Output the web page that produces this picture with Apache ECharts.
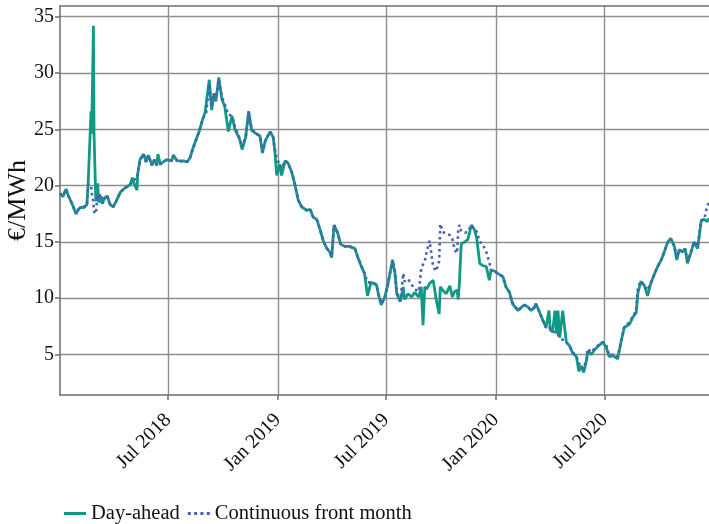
<!DOCTYPE html>
<html>
<head>
<meta charset="utf-8">
<script src="https://cdn.jsdelivr.net/npm/echarts@6/dist/echarts.min.js"></script>
<style>
  html, body { margin: 0; padding: 0; background: #ffffff; }
  #chart { width: 709px; height: 524px; }
</style>
</head>
<body>
<div id="chart"></div>
<script>
// Gas price series, EUR/MWh
const dates = [
  '2018-01-01','2018-01-06','2018-01-11','2018-01-15','2018-01-21','2018-01-28','2018-02-01','2018-02-05','2018-02-09','2018-02-15',
  '2018-02-17','2018-02-22','2018-02-23','2018-02-26','2018-02-27','2018-03-02','2018-03-05','2018-03-07','2018-03-10','2018-03-13',
  '2018-03-16','2018-03-21','2018-03-26','2018-03-31','2018-04-05','2018-04-12','2018-04-20','2018-04-29','2018-05-02','2018-05-05',
  '2018-05-10','2018-05-11','2018-05-15','2018-05-21','2018-05-25','2018-05-29','2018-06-04','2018-06-08','2018-06-12','2018-06-14',
  '2018-06-18','2018-06-23','2018-06-29','2018-07-07','2018-07-10','2018-07-16','2018-07-21','2018-07-27','2018-08-02','2018-08-07',
  '2018-08-11','2018-08-17','2018-08-22','2018-08-28','2018-09-01','2018-09-03','2018-09-08','2018-09-12','2018-09-16','2018-09-19',
  '2018-09-24','2018-09-29','2018-10-04','2018-10-10','2018-10-16','2018-10-21','2018-10-29','2018-11-02','2018-11-08','2018-11-13',
  '2018-11-18','2018-11-26','2018-12-02','2018-12-06','2018-12-11','2018-12-19','2018-12-24','2018-12-27','2018-12-30','2019-01-04',
  '2019-01-07','2019-01-13','2019-01-18','2019-01-24','2019-01-29','2019-02-04','2019-02-10','2019-02-18','2019-02-24','2019-03-01',
  '2019-03-07','2019-03-12','2019-03-18','2019-03-23','2019-03-29','2019-04-01','2019-04-05','2019-04-11','2019-04-16','2019-04-23',
  '2019-05-01','2019-05-10','2019-05-15','2019-05-21','2019-05-26','2019-05-31','2019-06-06','2019-06-15','2019-06-19','2019-06-23',
  '2019-06-29','2019-07-04','2019-07-12','2019-07-16','2019-07-19','2019-07-25','2019-07-30','2019-08-01','2019-08-07','2019-08-13',
  '2019-08-18','2019-08-25','2019-08-29','2019-09-01','2019-09-04','2019-09-07','2019-09-12','2019-09-18','2019-09-23','2019-09-28',
  '2019-09-30','2019-10-04','2019-10-10','2019-10-16','2019-10-20','2019-10-24','2019-10-28','2019-10-30','2019-11-01','2019-11-04',
  '2019-11-10','2019-11-15','2019-11-21','2019-11-26','2019-11-30','2019-12-05','2019-12-10','2019-12-16','2019-12-21','2019-12-24',
  '2019-12-30','2020-01-04','2020-01-13','2020-01-18','2020-01-24','2020-01-29','2020-02-07','2020-02-13','2020-02-18','2020-02-24',
  '2020-02-29','2020-03-06','2020-03-08','2020-03-13','2020-03-20','2020-03-25','2020-03-30','2020-04-01','2020-04-05','2020-04-09',
  '2020-04-12','2020-04-14','2020-04-17','2020-04-22','2020-04-25','2020-04-28','2020-05-03','2020-05-09','2020-05-15','2020-05-19',
  '2020-05-23','2020-05-27','2020-06-01','2020-06-03','2020-06-09','2020-06-14','2020-06-20','2020-06-28','2020-07-04','2020-07-09',
  '2020-07-15','2020-07-23','2020-07-29','2020-08-03','2020-08-12','2020-08-17','2020-08-23','2020-08-26','2020-08-31','2020-09-06',
  '2020-09-11','2020-09-17','2020-09-23','2020-09-28','2020-10-04','2020-10-09','2020-10-15','2020-10-20','2020-10-26','2020-10-30',
  '2020-11-03','2020-11-09','2020-11-13','2020-11-17','2020-11-23','2020-11-28','2020-12-04','2020-12-10','2020-12-15','2020-12-20',
  '2020-12-23'
];

const dayAhead = [
  19.3,19.0,19.7,19.1,18.4,17.5,17.9,18.1,18.0,18.3,
  20.0,26.6,24.6,34.2,24.6,18.6,20.2,18.5,19.0,18.4,
  18.8,19.1,18.3,18.1,18.6,19.4,19.8,20.1,20.7,20.2,
  19.6,21.0,22.3,22.8,22.1,22.7,21.8,22.3,21.8,22.8,
  21.9,22.1,22.3,22.2,22.7,22.2,22.2,22.2,22.1,22.5,
  23.2,24.1,24.8,25.9,26.5,26.6,29.4,26.7,28.2,27.5,
  29.6,27.7,27.0,24.8,26.2,25.0,24.1,23.2,24.3,26.6,
  24.9,24.6,24.4,22.9,24.0,24.8,24.3,23.0,20.9,21.9,
  20.9,22.2,22.0,21.2,20.2,18.7,18.1,17.8,17.9,17.2,
  17.0,16.2,15.1,14.5,14.1,13.6,16.5,15.8,14.8,14.6,
  14.6,14.4,13.6,12.8,12.2,10.2,11.4,11.2,10.2,9.4,
  10.1,11.2,13.4,12.2,10.4,9.7,11.0,9.9,10.4,10.1,
  10.5,10.1,11.0,7.6,11.0,10.8,11.3,11.6,9.9,8.6,
  11.0,10.7,10.4,11.1,10.1,10.6,10.7,9.9,11.4,14.8,
  15.0,15.2,16.5,16.1,15.3,13.1,12.9,12.8,11.6,12.5,
  12.4,12.2,11.9,11.0,10.5,9.5,8.9,9.2,9.4,9.2,
  8.9,9.2,9.5,8.9,8.0,7.4,8.9,7.2,7.0,8.9,
  6.8,8.9,6.5,8.9,8.9,6.1,5.8,5.1,4.8,3.5,
  4.0,3.4,4.5,5.3,5.0,5.4,5.7,6.1,5.6,4.8,
  4.9,4.6,6.2,7.4,7.7,8.3,8.7,10.5,11.5,11.1,
  10.2,11.4,12.2,12.8,13.4,14.1,15.0,15.3,14.6,13.4,
  14.3,14.1,14.4,13.1,14.1,15.0,14.4,16.9,17.0,16.8,
  17.1
];

const frontMonth = [
  19.3,19.1,19.7,19.1,18.4,17.5,17.9,18.0,18.1,18.2,
  20.1,20.0,19.4,18.5,17.7,17.5,19.2,18.8,19.3,18.4,
  18.9,19.1,18.3,18.1,18.6,19.4,19.8,20.1,20.5,20.5,
  20.6,21.0,22.3,22.8,22.1,22.7,21.8,22.3,21.8,22.0,
  21.9,22.1,22.3,22.2,22.7,22.2,22.1,22.2,22.1,22.5,
  23.2,24.1,24.8,25.9,26.3,26.5,29.0,27.0,28.2,27.5,
  29.4,27.9,27.2,26.3,26.2,25.2,24.2,23.4,24.3,26.5,
  25.0,24.6,24.4,23.0,24.0,24.8,24.3,23.2,22.4,21.9,
  21.5,22.2,22.0,21.2,20.2,18.7,18.1,17.8,17.9,17.2,
  17.0,16.2,15.1,14.5,14.1,13.7,16.5,15.8,14.8,14.6,
  14.6,14.4,13.6,12.8,12.2,11.4,11.4,11.2,10.2,9.5,
  10.1,11.2,13.4,12.4,10.5,9.8,12.2,11.5,11.7,11.2,
  10.8,10.6,12.6,13.0,13.3,14.1,15.1,12.8,12.4,13.3,
  16.6,15.9,15.7,15.6,15.3,14.3,14.0,16.1,16.5,16.0,
  15.8,15.9,16.5,16.1,15.9,15.0,14.8,14.1,13.2,12.5,
  12.4,12.2,11.9,11.0,10.5,9.6,8.9,9.2,9.4,9.2,
  8.9,9.2,9.5,8.9,8.0,7.4,7.5,7.4,7.0,7.0,
  6.8,6.7,6.6,6.3,6.2,6.1,5.8,5.2,4.8,4.2,
  4.0,3.7,4.6,5.5,5.2,5.5,5.8,6.1,5.8,4.9,
  5.0,4.8,6.2,7.4,7.9,8.3,8.9,11.0,11.5,11.1,
  10.7,11.4,12.2,12.8,13.4,14.1,15.0,15.3,14.6,13.6,
  14.3,14.1,14.4,13.3,14.1,15.0,14.6,16.9,17.0,18.2,
  18.5
];

const yTicks = [5, 10, 15, 20, 25, 30, 35];
const xTickDates = ['2018-07-01', '2019-01-01', '2019-07-01', '2020-01-01', '2020-07-01'];
const monthNames = ['Jan','Feb','Mar','Apr','May','Jun','Jul','Aug','Sep','Oct','Nov','Dec'];

function toTime(s) {
  const [y, m, d] = s.split('-').map(Number);
  return new Date(y, m - 1, d).getTime();
}

const xStart = toTime('2018-01-01');
const xEnd = toTime('2020-12-23');
const xTickValues = xTickDates.map(toTime);

const serif = 'Liberation Serif';
const axisGray = '#6e6e6e';
const gridGray = '#8f8f8f';
const green = '#0f9a83';
const blue = '#4a60b6';

// legend keys: a solid bar and a row of four dots
const solidKey = 'path://M0,0 H22 V3 H0 Z';
const dottedKey = 'path://M0,0h3v3h-3z M6.3,0h3v3h-3z M12.6,0h3v3h-3z M18.9,0h3v3h-3z';

const chart = echarts.init(document.getElementById('chart'), null, { renderer: 'canvas' });

chart.setOption({
  animation: false,
  backgroundColor: '#ffffff',
  grid: { left: 60, right: 0, top: 6, bottom: 129, containLabel: false, outerBoundsMode: 'none' },
  legend: {
    left: 59,
    top: 498,
    itemWidth: 22,
    itemHeight: 14,
    itemGap: 8,
    textStyle: { fontFamily: serif, fontSize: 20.5, color: '#111111' },
    data: [
      { name: 'Day-ahead', icon: solidKey },
      { name: 'Continuous front month', icon: dottedKey }
    ]
  },
  xAxis: [
    {
      type: 'value',
      min: xStart,
      max: xEnd,
      axisLine: { show: true, lineStyle: { color: axisGray, width: 1.5 } },
      axisTick: { show: true, customValues: xTickValues, length: 5, lineStyle: { color: axisGray, width: 1.5 } },
      axisLabel: {
        customValues: xTickValues,
        rotate: 45,
        margin: 22,
        fontFamily: serif,
        fontSize: 20,
        color: '#111111',
        formatter: function (v) {
          const d = new Date(v);
          return monthNames[d.getMonth()] + ' ' + d.getFullYear();
        }
      },
      splitLine: { show: true, lineStyle: { color: gridGray, width: 1.4 } }
    },
    {
      type: 'value',
      position: 'top',
      min: xStart,
      max: xEnd,
      axisLine: { show: true, lineStyle: { color: axisGray, width: 1.5 } },
      axisTick: { show: false },
      axisLabel: { show: false },
      splitLine: { show: false }
    }
  ],
  yAxis: {
    type: 'value',
    min: 1.4,
    max: 35.95,
    splitNumber: 7,
    name: '€/MWh',
    nameLocation: 'middle',
    nameGap: 29,
    nameMoveOverlap: false,
    nameTextStyle: { fontFamily: serif, fontSize: 26, color: '#111111' },
    axisLine: { show: true, lineStyle: { color: axisGray, width: 1.5 } },
    axisTick: { show: true, customValues: yTicks, length: 5, lineStyle: { color: axisGray, width: 1.5 } },
    axisLabel: { customValues: yTicks, fontFamily: serif, fontSize: 20, color: '#111111', margin: 6 },
    splitLine: { show: true, lineStyle: { color: gridGray, width: 1.4 } }
  },
  series: [
    {
      name: 'Day-ahead',
      type: 'line',
      symbol: 'none',
      data: dates.map((d, i) => [toTime(d), dayAhead[i]]),
      lineStyle: { color: green, width: 2.8 },
      itemStyle: { color: green },
      z: 2
    },
    {
      name: 'Continuous front month',
      type: 'line',
      symbol: 'none',
      data: dates.map((d, i) => [toTime(d), frontMonth[i]]),
      lineStyle: { color: blue, width: 2.6, type: [2.6, 3.4] },
      itemStyle: { color: blue },
      z: 3
    }
  ]
});
</script>
</body>
</html>
